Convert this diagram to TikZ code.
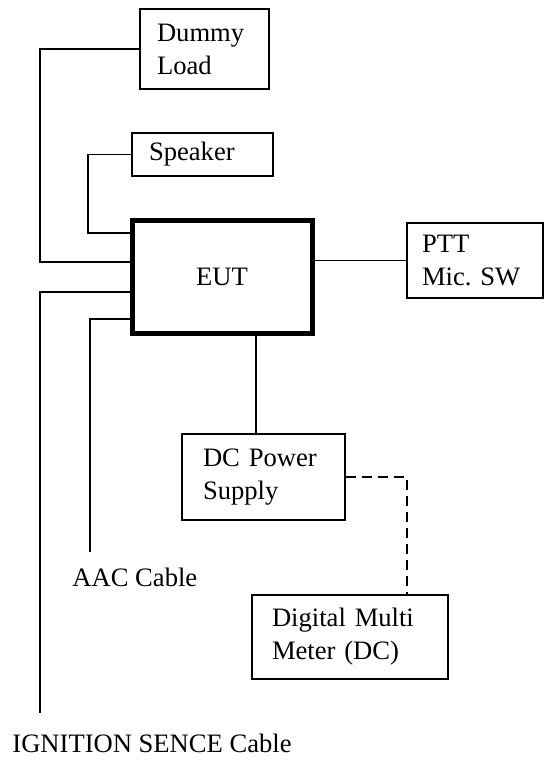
\documentclass[tikz,border=0pt]{standalone}
\usepackage{fontspec}
\setmainfont{Liberation Serif}
\usetikzlibrary{calc}
\tikzset{
  device box/.style={draw=black, line width=1pt, align=left, minimum height=#1},
  eut box/.style={draw=black, line width=2.5pt, minimum width=90pt, minimum height=56.5pt},
  cable line/.style={line width=0.8pt, black},
  meter line/.style={line width=0.8pt, black, dash pattern=on 5pt off 3pt},
  cable label/.style={anchor=base west, inner sep=0pt},
}

\begin{document}
\begin{tikzpicture}[x=0.5pt, y=-0.5pt, font=\fontsize{13.3pt}{16.5pt}\selectfont]
  \useasboundingbox (0,0) rectangle (544,760);
  \node[eut box] (eut) at (222,276.5) {EUT};
  \node[device box=40pt, text width=47.5pt, inner xsep=8.5pt] (dummy) at (204.5,49) {Dummy\\Load};
  \node[device box=21.5pt, text width=53.5pt, inner xsep=8.5pt] (speaker) at (202.5,154.5) {Speaker};
  \node[device box=37.5pt, text width=53pt, inner xsep=7.5pt] (ptt) at (475,260.5) {PTT\\Mic.~SW};
  \node[device box=43pt, text width=60.5pt, inner xsep=10.5pt] (dc) at (263.5,477) {DC~Power\\Supply};
  \node[device box=42pt, text width=78pt, inner xsep=10pt] (dmm) at (350,637) {Digital~Multi\\Meter~(DC)};
  \coordinate (dummy bend) at (40,262);
  \coordinate (speaker bend) at (88,233);
  \coordinate (ign end) at (40,713);
  \coordinate (ign bend) at (40,292);
  \coordinate (aac end) at (90,552);
  \coordinate (aac bend) at (90,319);
  \coordinate (dc top) at ([xshift=-3.75pt]dc.north);
  \coordinate (dmm top) at ([xshift=28.5pt]dmm.north);
  \draw[cable line] (dummy.west) -| (dummy bend) -- (dummy bend -| eut.west);
  \draw[cable line] (speaker.west) -| (speaker bend) -- (speaker bend -| eut.west);
  \draw[cable line] (ign end) -- (ign bend) -- (ign bend -| eut.west);
  \draw[cable line] (aac end) -- (aac bend) -- (aac bend -| eut.west);
  \draw[cable line] (ptt.west) -- (ptt.west -| eut.east);
  \draw[cable line] (dc top) -- (dc top |- eut.south);
  \draw[meter line] (dc.east) -| (dmm top);
  \node[cable label] (aac) at (72,586) {AAC Cable};
  \node[cable label] (ign) at (12,752) {IGNITION SENCE Cable};
\end{tikzpicture}
\end{document}
